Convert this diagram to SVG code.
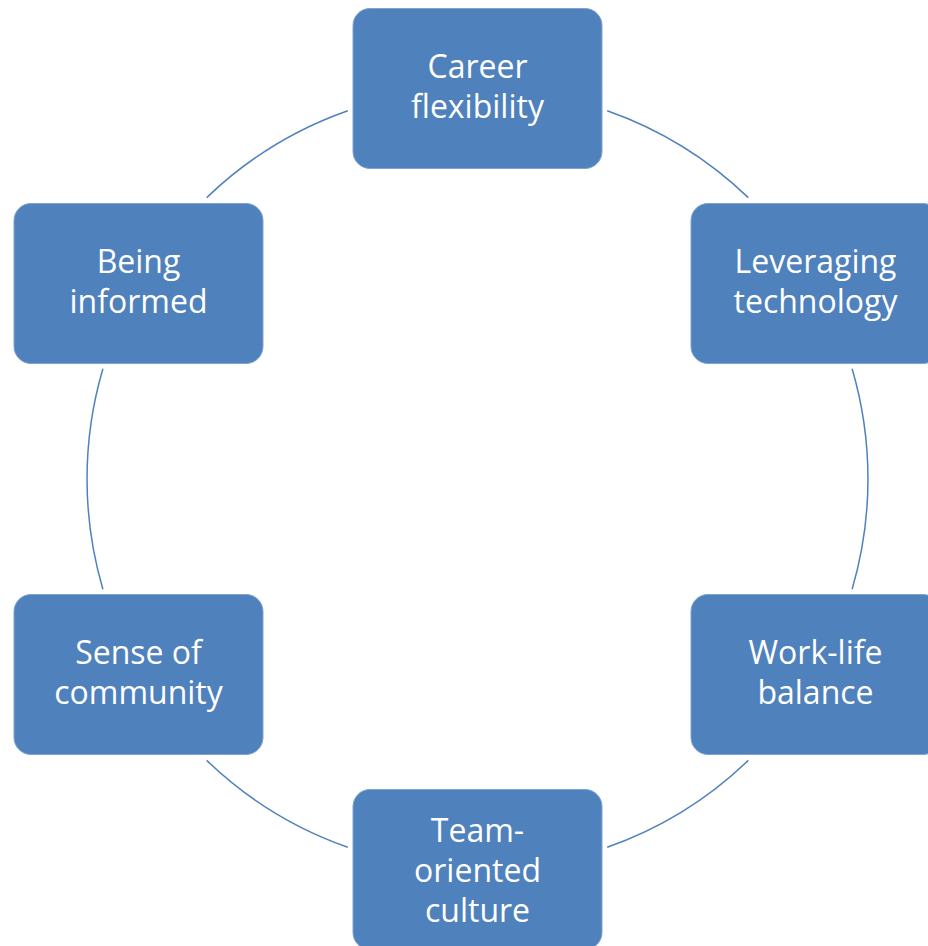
<svg xmlns="http://www.w3.org/2000/svg" width="928" height="946" viewBox="0 0 928 946">
<style>
.box{fill:#4f81bd;stroke:#7fa2cf;stroke-width:1}
.t{fill:#ffffff;font-family:"Open Sans","Liberation Sans",sans-serif;font-size:32px;text-anchor:middle}
.arc{fill:none;stroke:#4f81bd;stroke-width:1.5}
</style>
<rect width="928" height="946" fill="#ffffff"/>
<g id="connectors">
<path class="arc" d="M607.2,110.7 A390.5,390.5 0 0 1 748.3,197.6"/>
<path class="arc" d="M852.1,368.8 A390.5,390.5 0 0 1 852.1,589.2"/>
<path class="arc" d="M748.3,760.4 A390.5,390.5 0 0 1 607.2,847.3"/>
<path class="arc" d="M347.8,847.3 A390.5,390.5 0 0 1 206.7,760.4"/>
<path class="arc" d="M102.9,589.2 A390.5,390.5 0 0 1 102.9,368.8"/>
<path class="arc" d="M206.7,197.6 A390.5,390.5 0 0 1 347.8,110.7"/>
</g>
<g id="career">
<rect class="box" x="353" y="8.5" width="249" height="160" rx="17"/>
<text class="t" x="477.5" y="78">Career</text>
<text class="t" x="477.5" y="118">flexibility</text>
</g>
<g id="leveraging">
<rect class="box" x="691" y="203.5" width="249" height="160" rx="17"/>
<text class="t" x="815.5" y="273">Leveraging</text>
<text class="t" x="815.5" y="313">technology</text>
</g>
<g id="worklife">
<rect class="box" x="691" y="594.5" width="249" height="160" rx="17"/>
<text class="t" x="815.5" y="664">Work-life</text>
<text class="t" x="815.5" y="704">balance</text>
</g>
<g id="team">
<rect class="box" x="353" y="789.5" width="249" height="160" rx="17"/>
<text class="t" x="477.5" y="842">Team-</text>
<text class="t" x="477.5" y="882">oriented</text>
<text class="t" x="477.5" y="922">culture</text>
</g>
<g id="community">
<rect class="box" x="14" y="594.5" width="249" height="160" rx="17"/>
<text class="t" x="138.5" y="664">Sense of</text>
<text class="t" x="138.5" y="704">community</text>
</g>
<g id="informed">
<rect class="box" x="14" y="203.5" width="249" height="160" rx="17"/>
<text class="t" x="138.5" y="273">Being</text>
<text class="t" x="138.5" y="313">informed</text>
</g>
</svg>
